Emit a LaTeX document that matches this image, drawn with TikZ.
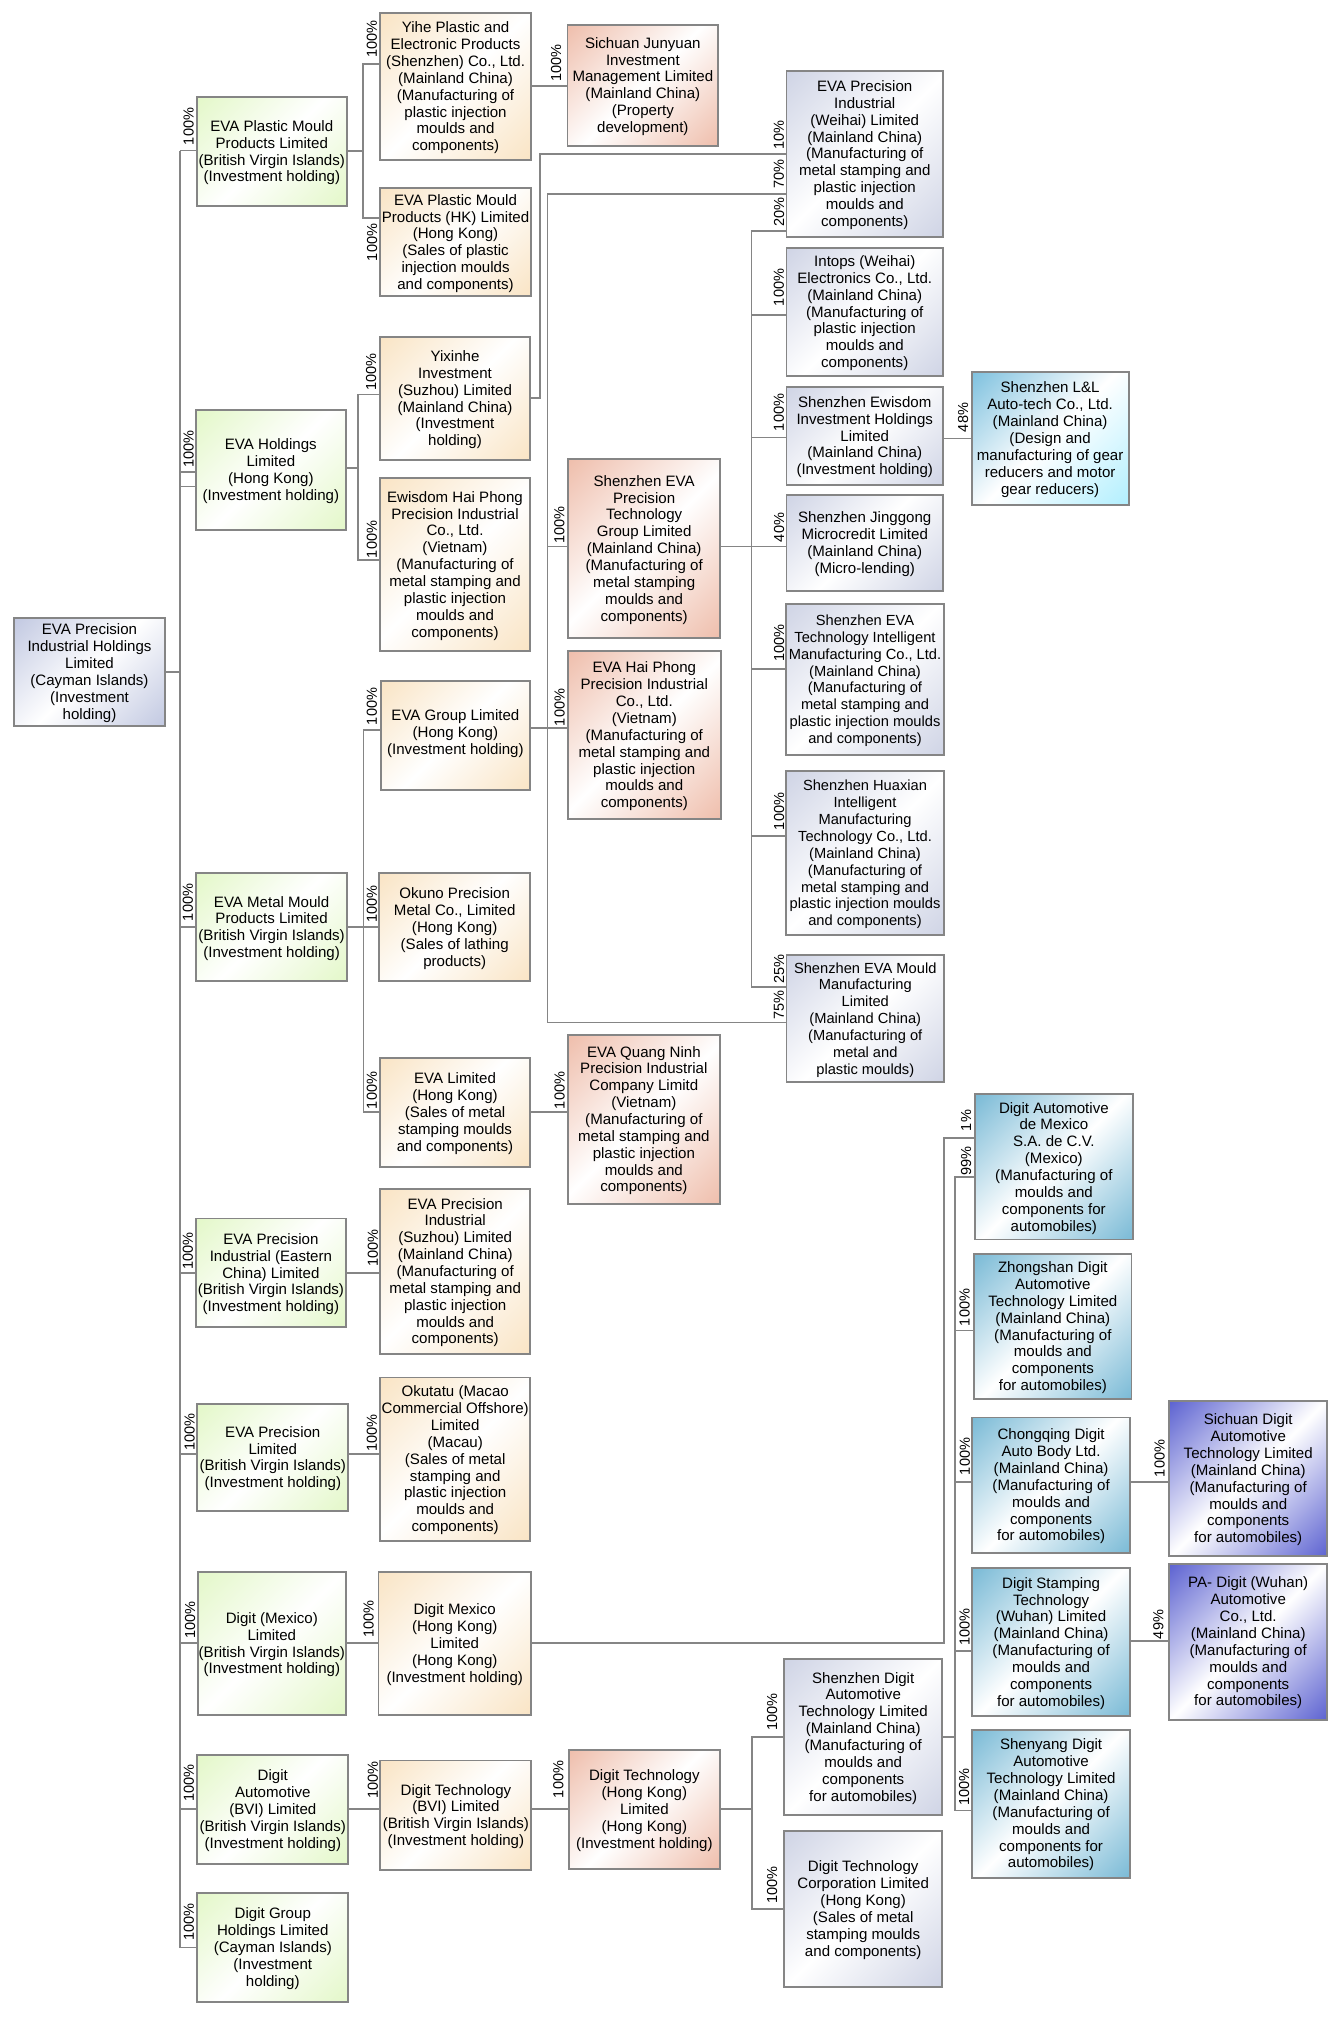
\documentclass[tikz,border=0pt]{standalone}
\usepackage{fontspec}
\setmainfont{Liberation Sans}
\definecolor{cRoot}{HTML}{BFC6E0}
\definecolor{cGreen}{HTML}{E2F7C6}
\definecolor{cCream}{HTML}{F9E3C2}
\definecolor{cRed}{HTML}{EEBBA8}
\definecolor{cGrey}{HTML}{CDD2E4}
\definecolor{cTeal}{HTML}{74B7D4}
\definecolor{cSkyA}{HTML}{78BEDD}
\definecolor{cSkyB}{HTML}{AEEEFE}
\definecolor{cViolet}{HTML}{565CCF}
\definecolor{cLine}{HTML}{858585}
\newcommand{\mkshade}[3]{\pgfdeclareverticalshading{#1}{100bp}{color(0bp)=(#3); color(13bp)=(#3); color(50bp)=(white); color(87bp)=(#2); color(100bp)=(#2)}}
\mkshade{shRoot}{cRoot}{cRoot}
\mkshade{shGreen}{cGreen}{cGreen}
\mkshade{shCream}{cCream}{cCream}
\mkshade{shRed}{cRed}{cRed}
\mkshade{shGrey}{cGrey}{cGrey}
\mkshade{shTeal}{cTeal}{cTeal}
\mkshade{shSky}{cSkyA}{cSkyB}
\mkshade{shViolet}{cViolet}{cViolet}
\tikzset{
  base/.style={draw=cLine,line width=1.4pt,outer sep=0pt,inner sep=0pt,align=center,
    font=\fontsize{11.3}{12.65}\selectfont,shade,shading angle=45},
  narrowtext/.style={font=\fontsize{11}{12.65}\selectfont},
  rootbox/.style={base,shading=shRoot},
  greenbox/.style={base,shading=shGreen},
  creambox/.style={base,shading=shCream},
  redbox/.style={base,shading=shRed},
  greybox/.style={base,shading=shGrey},
  tealbox/.style={base,shading=shTeal},
  skybox/.style={base,shading=shSky},
  violetbox/.style={base,shading=shViolet},
  conn/.style={draw=cLine,line width=1.25pt,line join=miter},
  trunkline/.style={draw=cLine,line width=1.6pt,line join=miter},
  pct/.style={rotate=90,anchor=west,inner sep=0pt,outer sep=0pt,font=\fontsize{10.9}{12}\selectfont}
}
\newcommand{\bx}[7]{\node[#2,minimum width={(#5-#3)*0.75pt},minimum height={(#6-#4)*0.75pt}] (#1) at ({(#3+#5)/2},{(#4+#6)/2}) {\rule{0pt}{10pt}#7};}
\begin{document}
\begin{tikzpicture}[x=0.75pt,y=-0.75pt]
\useasboundingbox (0,0) rectangle (1339,2028);
% named bus points
\coordinate (tkT) at (180,150.5);
\coordinate (tkB) at (180,1947.6);
\coordinate (jaT) at (363,63.8);
\coordinate (jaB) at (363,218);
\coordinate (jbT) at (358,394.6);
\coordinate (jbB) at (358,559.8);
\coordinate (jcT) at (363.4,730);
\coordinate (jcB) at (363.4,1111.8);
\coordinate (raA) at (539.7,398);
\coordinate (raB) at (539.7,154);
\coordinate (rbA) at (547.4,194);
\coordinate (rbB) at (547.4,1022.5);
\coordinate (bsT) at (751.5,230.8);
\coordinate (bsB) at (751.5,986.8);
\coordinate (rcA) at (943.7,1643.3);
\coordinate (rcB) at (943.7,1138);
\coordinate (bcT) at (955,1177);
\coordinate (bcB) at (955,1810.4);
\coordinate (bdT) at (751.8,1736.7);
\coordinate (bdB) at (751.8,1908.8);

\bx{root}{rootbox}{14}{618}{165}{726}{EVA Precision\\Industrial Holdings\\Limited\\(Cayman Islands)\\(Investment\\holding)}
\bx{plastic}{greenbox}{196.6}{97.3}{347}{205.8}{EVA Plastic Mould\\Products Limited\\(British Virgin Islands)\\(Investment holding)}
\bx{holdings}{greenbox}{195.7}{410}{346}{530}{EVA Holdings\\Limited\\(Hong Kong)\\(Investment holding)}
\bx{metal}{greenbox}{196.3}{873}{346.9}{981.4}{EVA Metal Mould\\Products Limited\\(British Virgin Islands)\\(Investment holding)}
\bx{eastern}{greenbox}{195.8}{1218.5}{346}{1327.4}{EVA Precision\\Industrial (Eastern\\China) Limited\\(British Virgin Islands)\\(Investment holding)}
\bx{evaprec}{greenbox}{197.3}{1403.9}{348.3}{1510.8}{EVA Precision\\Limited\\(British Virgin Islands)\\(Investment holding)}
\bx{digmex}{greenbox}{197.7}{1571.8}{346}{1715.3}{Digit (Mexico)\\Limited\\(British Virgin Islands)\\(Investment holding)}
\bx{digauto}{greenbox}{197.3}{1755}{348.3}{1863.6}{Digit\\Automotive\\(BVI) Limited\\(British Virgin Islands)\\(Investment holding)}
\bx{diggroup}{greenbox}{197.3}{1893}{348.3}{2001.7}{Digit Group\\Holdings Limited\\(Cayman Islands)\\(Investment\\holding)}

\bx{yihe}{creambox}{380.3}{13.4}{530.8}{160}{Yihe Plastic and\\Electronic Products\\(Shenzhen) Co., Ltd.\\(Mainland China)\\(Manufacturing of\\plastic injection\\moulds and\\components)}
\bx{plastichk}{creambox}{380.3}{188}{530.8}{296.4}{EVA Plastic Mould\\Products (HK) Limited\\(Hong Kong)\\(Sales of plastic\\injection moulds\\and components)}
\bx{yixinhe}{creambox}{380}{337}{530}{460}{Yixinhe\\Investment\\(Suzhou) Limited\\(Mainland China)\\(Investment\\holding)}
\bx{ewisdomhp}{creambox}{380}{477.7}{530}{651.3}{Ewisdom Hai Phong\\Precision Industrial\\Co., Ltd.\\(Vietnam)\\(Manufacturing of\\metal stamping and\\plastic injection\\moulds and\\components)}
\bx{evagroup}{creambox}{380.8}{681}{530}{790}{EVA Group Limited\\(Hong Kong)\\(Investment holding)\rule[-7pt]{0pt}{1pt}}
\bx{okuno}{creambox}{379.4}{873}{530}{981.4}{Okuno Precision\\Metal Co., Limited\\(Hong Kong)\\(Sales of lathing\\products)}
\bx{evaltd}{creambox}{380}{1057.8}{530}{1166.7}{EVA Limited\\(Hong Kong)\\(Sales of metal\\stamping moulds\\and components)}
\bx{suzhou}{creambox}{380}{1189}{530.4}{1353.8}{EVA Precision\\Industrial\\(Suzhou) Limited\\(Mainland China)\\(Manufacturing of\\metal stamping and\\plastic injection\\moulds and\\components)}
\bx{okutatu}{creambox}{380}{1377.5}{530.4}{1540.7}{Okutatu (Macao\\Commercial Offshore)\\Limited\\(Macau)\\(Sales of metal\\stamping and\\plastic injection\\moulds and\\components)}
\bx{mexhk}{creambox}{378.5}{1571.8}{531}{1715.3}{Digit Mexico\\(Hong Kong)\\Limited\\(Hong Kong)\\(Investment holding)}
\bx{techbvi}{creambox}{380.4}{1760.5}{531.4}{1870}{Digit Technology\\(BVI) Limited\\(British Virgin Islands)\\(Investment holding)}

\bx{junyuan}{redbox}{567.5}{24.6}{718.2}{146}{Sichuan Junyuan\\Investment\\Management Limited\\(Mainland China)\\(Property\\development)}
\bx{szeva}{redbox}{568}{459}{720.3}{638}{Shenzhen EVA\\Precision\\Technology\\Group Limited\\(Mainland China)\\(Manufacturing of\\metal stamping\\moulds and\\components)}
\bx{haiphong}{redbox}{568}{651}{720.6}{819.4}{EVA Hai Phong\\Precision Industrial\\Co., Ltd.\\(Vietnam)\\(Manufacturing of\\metal stamping and\\plastic injection\\moulds and\\components)}
\bx{quangninh}{redbox}{567.7}{1035}{720}{1203.8}{EVA Quang Ninh\\Precision Industrial\\Company Limitd\\(Vietnam)\\(Manufacturing of\\metal stamping and\\plastic injection\\moulds and\\components)}
\bx{techhk}{redbox}{569}{1749.9}{719.7}{1869}{Digit Technology\\(Hong Kong)\\Limited\\(Hong Kong)\\(Investment holding)}

\bx{weihai}{greybox}{786.5}{71}{943}{236.6}{EVA Precision\\Industrial\\(Weihai) Limited\\(Mainland China)\\(Manufacturing of\\metal stamping and\\plastic injection\\moulds and\\components)}
\bx{intops}{greybox}{786.5}{247.8}{943}{376}{Intops (Weihai)\\Electronics Co., Ltd.\\(Mainland China)\\(Manufacturing of\\plastic injection\\moulds and\\components)}
\bx{ewisdominv}{greybox}{786.5}{387}{943}{484.8}{Shenzhen Ewisdom\\Investment Holdings\\Limited\\(Mainland China)\\(Investment holding)}
\bx{jinggong}{greybox}{786.5}{495}{943}{591}{Shenzhen Jinggong\\Microcredit Limited\\(Mainland China)\\(Micro-lending)}
\bx{intelligent}{greybox,narrowtext}{786.4}{603.6}{943.6}{755}{Shenzhen EVA\\Technology Intelligent\\Manufacturing Co., Ltd.\\(Mainland China)\\(Manufacturing of\\metal stamping and\\plastic injection moulds\\and components)}
\bx{huaxian}{greybox,narrowtext}{786.4}{771}{943.6}{935.4}{Shenzhen Huaxian\\Intelligent\\Manufacturing\\Technology Co., Ltd.\\(Mainland China)\\(Manufacturing of\\metal stamping and\\plastic injection moulds\\and components)}
\bx{mould}{greybox,narrowtext}{786.5}{955}{944}{1081.9}{Shenzhen EVA Mould\\Manufacturing\\Limited\\(Mainland China)\\(Manufacturing of\\metal and\\plastic moulds)}
\bx{szdigit}{greybox}{784.4}{1659}{942}{1815}{Shenzhen Digit\\Automotive\\Technology Limited\\(Mainland China)\\(Manufacturing of\\moulds and\\components\\for automobiles)}
\bx{techcorp}{greybox}{784.4}{1831}{942}{1987}{Digit Technology\\Corporation Limited\\(Hong Kong)\\(Sales of metal\\stamping moulds\\and components)}

\bx{landl}{skybox}{971.6}{371.9}{1128.6}{504.9}{Shenzhen L\&L\\Auto-tech Co., Ltd.\\(Mainland China)\\(Design and\\manufacturing of gear\\reducers and motor\\gear reducers)}

\bx{demexico}{tealbox}{975}{1094.4}{1132.7}{1239.5}{Digit Automotive\\de Mexico\\S.A. de C.V.\\(Mexico)\\(Manufacturing of\\moulds and\\components for\\automobiles)}
\bx{zhongshan}{tealbox}{974.2}{1254}{1131.5}{1399}{Zhongshan Digit\\Automotive\\Technology Limited\\(Mainland China)\\(Manufacturing of\\moulds and\\components\\for automobiles)}
\bx{chongqing}{tealbox}{972.2}{1417.5}{1130}{1553}{Chongqing Digit\\Auto Body Ltd.\\(Mainland China)\\(Manufacturing of\\moulds and\\components\\for automobiles)}
\bx{stamping}{tealbox}{972.2}{1568.4}{1130}{1715.8}{Digit Stamping\\Technology\\(Wuhan) Limited\\(Mainland China)\\(Manufacturing of\\moulds and\\components\\for automobiles)}
\bx{shenyang}{tealbox}{972.2}{1729.8}{1130}{1877.7}{Shenyang Digit\\Automotive\\Technology Limited\\(Mainland China)\\(Manufacturing of\\moulds and\\components for\\automobiles)}

\bx{scdigit}{violetbox}{1169.4}{1401}{1327}{1556.4}{Sichuan Digit\\Automotive\\Technology Limited\\(Mainland China)\\(Manufacturing of\\moulds and\\components\\for automobiles)}
\bx{padigit}{violetbox}{1169.4}{1564}{1327}{1719.6}{PA- Digit (Wuhan)\\Automotive\\Co., Ltd.\\(Mainland China)\\(Manufacturing of\\moulds and\\components\\for automobiles)}

% trunk and its branches
\draw[trunkline] (tkT) -- (tkB);
\draw[conn] (root.east |- 0,672) -- (tkT |- 0,672);
\draw[conn] (tkT) -- (plastic.west |- tkT);
\draw[conn] (tkT |- 0,472) -- (holdings.west |- 0,472);
\draw[conn] (tkT |- 0,486.6) -- (holdings.west |- 0,486.6);
\draw[conn] (tkT |- 0,927) -- (metal.west |- 0,927);
\draw[conn] (tkT |- 0,1273) -- (eastern.west |- 0,1273);
\draw[conn] (tkT |- 0,1454.2) -- (evaprec.west |- 0,1454.2);
\draw[conn] (tkT |- 0,1643.3) -- (digmex.west |- 0,1643.3);
\draw[conn] (tkT |- 0,1809) -- (digauto.west |- 0,1809);
\draw[conn] (tkB) -- (diggroup.west |- tkB);

% second level
\draw[conn] (plastic.east |- 0,151.3) -- (jaT |- 0,151.3);
\draw[conn] (yihe.west |- jaT) -- (jaT) -- (jaB) -- (plastichk.west |- jaB);
\draw[conn] (holdings.east |- 0,468) -- (jbT |- 0,468);
\draw[conn] (yixinhe.west |- jbT) -- (jbT) -- (jbB) -- (ewisdomhp.west |- jbB);
\draw[conn] (metal.east |- 0,927) -- (okuno.west |- 0,927);
\draw[conn] (evagroup.west |- jcT) -- (jcT) -- (jcB) -- (evaltd.west |- jcB);
\draw[conn] (eastern.east |- 0,1273) -- (suzhou.west |- 0,1273);
\draw[conn] (evaprec.east |- 0,1454.2) -- (okutatu.west |- 0,1454.2);
\draw[conn] (digmex.east |- 0,1643.3) -- (mexhk.west |- 0,1643.3);
\draw[conn] (digauto.east |- 0,1809) -- (techbvi.west |- 0,1809);

% third level
\draw[conn] (yihe.east |- 0,86) -- (junyuan.west |- 0,86);
\draw[conn] (yixinhe.east |- raA) -- (raA) -- (raB) -- (weihai.west |- raB);
\draw[conn] (weihai.west |- rbA) -- (rbA) -- (rbB) -- (mould.west |- rbB);
\draw[conn] (rbA |- 0,546.4) -- (szeva.west |- 0,546.4);
\draw[conn] (evagroup.east |- 0,728) -- (haiphong.west |- 0,728);
\draw[conn] (evaltd.east |- jcB) -- (quangninh.west |- jcB);
\draw[conn] (techbvi.east |- 0,1809) -- (techhk.west |- 0,1809);
\draw[conn] (mexhk.east |- rcA) -- (rcA) -- (rcB) -- (demexico.west |- rcB);

% Shenzhen EVA bus
\draw[conn] (szeva.east |- 0,546.4) -- (jinggong.west |- 0,546.4);
\draw[conn] (weihai.west |- bsT) -- (bsT) -- (bsB) -- (mould.west |- bsB);
\draw[conn] (bsT |- 0,314.7) -- (intops.west |- 0,314.7);
\draw[conn] (bsT |- 0,437.5) -- (ewisdominv.west |- 0,437.5);
\draw[conn] (ewisdominv.east |- 0,438.4) -- (landl.west |- 0,438.4);
\draw[conn] (bsT |- 0,668.8) -- (intelligent.west |- 0,668.8);
\draw[conn] (bsT |- 0,836.3) -- (huaxian.west |- 0,836.3);

% Digit buses
\draw[conn] (techhk.east |- 0,1809) -- (bdT |- 0,1809);
\draw[conn] (szdigit.west |- bdT) -- (bdT) -- (bdB) -- (techcorp.west |- bdB);
\draw[conn] (szdigit.east |- bdT) -- (bcT |- bdT);
\draw[conn] (demexico.west |- bcT) -- (bcT) -- (bcB) -- (shenyang.west |- bcB);
\draw[conn] (bcT |- 0,1330.5) -- (zhongshan.west |- 0,1330.5);
\draw[conn] (bcT |- 0,1481.9) -- (chongqing.west |- 0,1481.9);
\draw[conn] (chongqing.east |- 0,1481.9) -- (scdigit.west |- 0,1481.9);
\draw[conn] (bcT |- 0,1651) -- (stamping.west |- 0,1651);
\draw[conn] (stamping.east |- 0,1641.2) -- (padigit.west |- 0,1641.2);

% percentages
\node[pct] (p01) at (188.5,145) {100\%};
\node[pct] (p02) at (188.5,467.4) {100\%};
\node[pct] (p03) at (371.8,57.6) {100\%};
\node[pct] (p04) at (372,261) {100\%};
\node[pct] (p05) at (556,81.7) {100\%};
\node[pct] (p06) at (371,390.6) {100\%};
\node[pct] (p07) at (371.8,558) {100\%};
\node[pct] (p08) at (559.4,543.7) {100\%};
\node[pct] (p09) at (559.7,726) {100\%};
\node[pct] (p10) at (778.8,149.5) {10\%};
\node[pct] (p11) at (778.8,188.8) {70\%};
\node[pct] (p12) at (779.2,226.8) {20\%};
\node[pct] (p13) at (778.8,306) {100\%};
\node[pct] (p14) at (778.8,431) {100\%};
\node[pct] (p15) at (963,432) {48\%};
\node[pct] (p16) at (779,542) {40\%};
\node[pct] (p17) at (779,661.6) {100\%};
\node[pct] (p18) at (779,830) {100\%};
\node[pct] (p19) at (779,983.7) {25\%};
\node[pct] (p20) at (779,1019.8) {75\%};
\node[pct] (p21) at (966,1131) {1\%};
\node[pct] (p22) at (966,1175.6) {99\%};
\node[pct] (p23) at (964.5,1326) {100\%};
\node[pct] (p24) at (187.8,921) {100\%};
\node[pct] (p25) at (371.9,725) {100\%};
\node[pct] (p26) at (371.9,922.5) {100\%};
\node[pct] (p27) at (371.9,1109) {100\%};
\node[pct] (p28) at (559.7,1109) {100\%};
\node[pct] (p29) at (187.8,1269.8) {100\%};
\node[pct] (p30) at (372.8,1266.7) {100\%};
\node[pct] (p31) at (189.7,1450.8) {100\%};
\node[pct] (p32) at (371.9,1451.6) {100\%};
\node[pct] (p33) at (190.2,1638.7) {100\%};
\node[pct] (p34) at (368.6,1637.8) {100\%};
\node[pct] (p35) at (188.8,1801.8) {100\%};
\node[pct] (p36) at (372.8,1798.9) {100\%};
\node[pct] (p37) at (558.3,1798) {100\%};
\node[pct] (p38) at (188.8,1940.3) {100\%};
\node[pct] (p39) at (772,1730.7) {100\%};
\node[pct] (p40) at (772,1903.3) {100\%};
\node[pct] (p41) at (964.9,1475) {100\%};
\node[pct] (p42) at (964.5,1645.5) {100\%};
\node[pct] (p43) at (964,1805.7) {100\%};
\node[pct] (p44) at (1159.7,1477) {100\%};
\node[pct] (p45) at (1158.4,1639) {49\%};
\end{tikzpicture}
\end{document}
